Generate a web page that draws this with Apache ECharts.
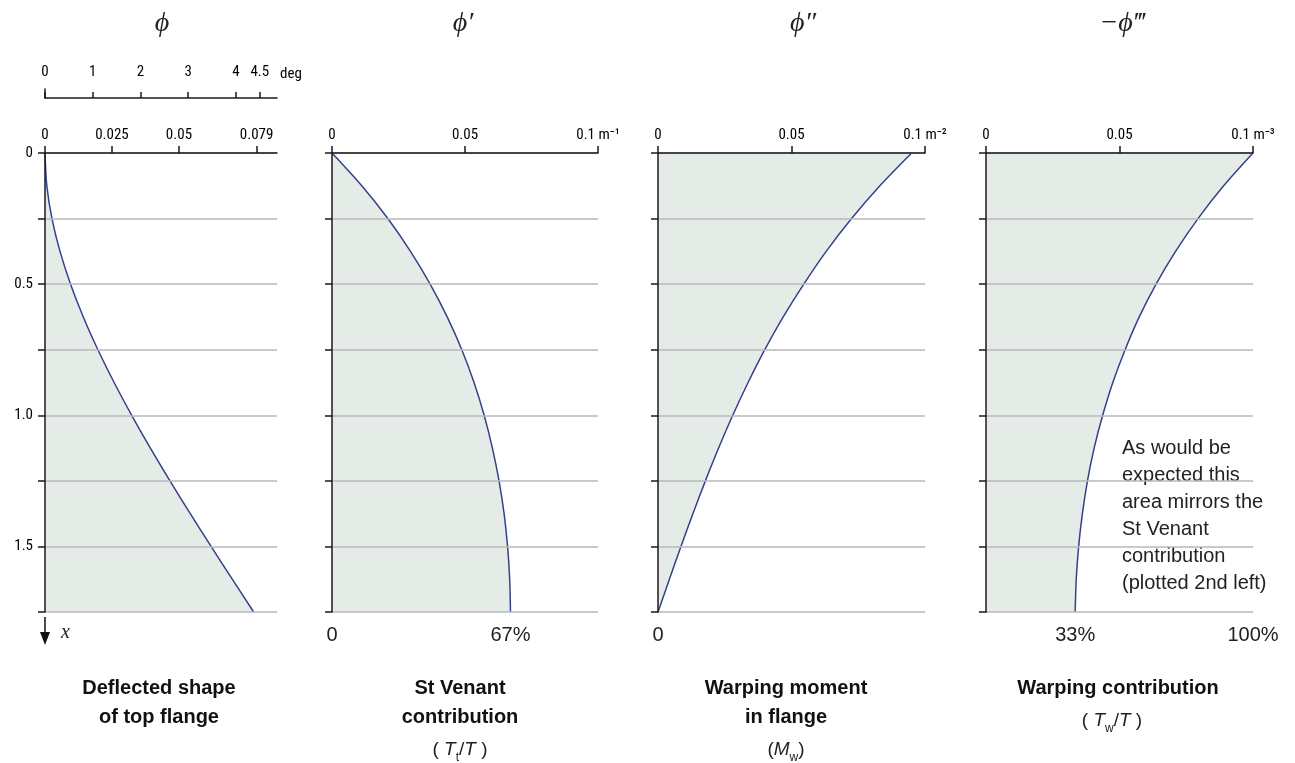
<!DOCTYPE html>
<html>
<head>
<meta charset="utf-8">
<script src="https://cdn.jsdelivr.net/npm/echarts@6/dist/echarts.min.js"></script>
<style>
html,body{margin:0;padding:0;background:#fff;}
#chart{width:1295px;height:763px;}
</style>
</head>
<body>
<div id="chart"></div>
<script>
// Depth along the member (m), top = fixed end
const depth = ['0','0.125','0.25','0.375','0.5','0.625','0.75','0.875','1.0','1.125','1.25','1.375','1.5','1.625','1.75'];
// phi (rad)
const phi = [0, 0.00068, 0.0026, 0.0056, 0.00954, 0.01429, 0.01975, 0.0258, 0.03236, 0.03934, 0.04665, 0.05423, 0.062, 0.0699, 0.0779];
// phi' (m^-1)
const phi1 = [0, 0.0112, 0.0210, 0.0295, 0.0369, 0.0433, 0.0488, 0.0534, 0.0572, 0.0603, 0.0628, 0.0647, 0.0660, 0.0668, 0.0671];
// phi'' (m^-2)
const phi2 = [0.095, 0.0831, 0.0725, 0.0630, 0.0546, 0.0469, 0.0400, 0.03375, 0.0280, 0.0227, 0.01775, 0.01307, 0.0086, 0.00427, 0];
// -phi''' (m^-3)
const phi3 = [0.1, 0.0890, 0.0794, 0.0710, 0.0637, 0.0574, 0.0521, 0.0475, 0.0437, 0.0405, 0.0380, 0.0361, 0.0347, 0.0338, 0.0334];

const degTicks = [0, 1, 2, 3, 4, 4.5];
const radTicks = [0, 0.025, 0.05, 0.079];
const derivTicks = [0, 0.05, 0.1];
const units = ['', 'm\u207B\u00B9', 'm\u207B\u00B2', 'm\u207B\u00B3'];
const bottomTicks2 = [0, 0.0671];
const bottomTicks3 = [0];
const bottomTicks4 = [0.0334, 0.1];

const titles = ['\u03D5', '\u03D5\u2032', '\u03D5\u2033', '\u2212\u03D5\u2034'];
const captions = [
  'Deflected shape\nof top flange',
  'St Venant\ncontribution',
  'Warping moment\nin flange',
  'Warping contribution'
];
const note = 'As would be\nexpected this\narea mirrors the\nSt Venant\ncontribution\n(plotted 2nd left)';

const COND = "'Roboto Condensed','DejaVu Sans Condensed',sans-serif";
const SANS = "'Liberation Sans',Arial,sans-serif";
const SERIF = "'Liberation Serif','DejaVu Serif',serif";
const LINE = '#35408c';
const FILL = '#e5ebe7';
const GRIDC = '#b8b8b8';
const AX = '#1a1a1a';

const panels = [
  {left: 45, width: 232, max: 0.0866, data: phi, ticks: radTicks},
  {left: 332, width: 266, max: 0.1, data: phi1, ticks: derivTicks},
  {left: 658, width: 267, max: 0.1, data: phi2, ticks: derivTicks},
  {left: 986, width: 267, max: 0.1, data: phi3, ticks: derivTicks}
];
const TOP = 153, H = 459;

const grid = panels.map(p => ({left: p.left, top: TOP, width: p.width, height: H}));
grid.push({left: 45, top: 89, width: 232, height: 9});

const xAxis = panels.map((p, i) => ({
  type: 'value', gridIndex: i, position: 'top', min: 0, max: p.max, z: 5,
  axisLine: {show: true, lineStyle: {color: AX, width: 1.5}},
  axisTick: {show: true, inside: false, length: 7, lineStyle: {color: AX, width: 1.5}, customValues: p.ticks},
  axisLabel: {show: true, margin: 10, color: '#000', fontFamily: COND, fontSize: 15,
    customValues: p.ticks,
    formatter: v => (i > 0 && v === 0.1) ? '0.1 ' + units[i] : String(v)},
  splitLine: {show: false}
}));
xAxis.push({
  type: 'value', gridIndex: 4, position: 'top', min: 0, max: 4.86,
  axisLine: {show: true, lineStyle: {color: AX, width: 1.5}},
  axisTick: {show: true, length: 6, lineStyle: {color: AX, width: 1.5}, customValues: degTicks},
  axisLabel: {margin: 9, color: '#000', fontFamily: COND, fontSize: 15, customValues: degTicks},
  splitLine: {show: false},
  name: 'deg', nameLocation: 'end', nameGap: 3,
  nameTextStyle: {color: '#000', fontFamily: COND, fontSize: 15, verticalAlign: 'bottom', padding: [0, 0, 16, 0]}
});
const bottomSets = [null, bottomTicks2, bottomTicks3, bottomTicks4];
[1, 2, 3].forEach(i => {
  xAxis.push({
    type: 'value', gridIndex: i, position: 'bottom', min: 0, max: panels[i].max,
    axisLine: {show: false}, axisTick: {show: false}, splitLine: {show: false},
    axisLabel: {show: true, margin: 13, color: '#222', fontFamily: SANS, fontSize: 20,
      customValues: bottomSets[i],
      formatter: v => v === 0 ? '0' : Math.round(v / 0.1 * 100) + '%'}
  });
});

const yAxis = panels.map((p, i) => ({
  type: 'category', gridIndex: i, data: depth, inverse: true, boundaryGap: false, z: 4,
  axisLine: {show: true, lineStyle: {color: AX, width: 1.5}},
  axisTick: {show: true, length: 7, interval: idx => idx % 2 === 0, lineStyle: {color: AX, width: 1.5}},
  axisLabel: {show: i === 0, margin: 12, color: '#000', fontFamily: COND, fontSize: 15,
    interval: idx => idx % 4 === 0,
    formatter: v => v === '0' ? '0' : Number(v).toFixed(1)},
  splitLine: {show: true, interval: idx => idx % 2 === 0, lineStyle: {color: GRIDC, width: 1.5}}
}));
yAxis.push({
  type: 'value', gridIndex: 4, min: 0, max: 1,
  axisLine: {show: true, onZero: false, lineStyle: {color: AX, width: 1.5}},
  axisTick: {show: false}, axisLabel: {show: false}, splitLine: {show: false}
});

const series = panels.map((p, i) => ({
  type: 'line', xAxisIndex: i, yAxisIndex: i, data: p.data,
  smooth: 0.3, symbol: 'none', z: 2,
  lineStyle: {color: LINE, width: 1.5},
  areaStyle: {color: FILL, opacity: 1},
  silent: true
}));

const graphic = [];
const titleX = [162, 463, 803, 1122];
titles.forEach((t, i) => graphic.push({
  type: 'text', x: titleX[i], y: 24,
  style: {text: t, fill: '#222', font: 'italic 28px ' + SERIF, align: 'center', verticalAlign: 'middle'}
}));
const capX = [159, 460, 786, 1118];
captions.forEach((c, i) => graphic.push({
  type: 'text', x: capX[i], y: 674,
  style: {text: c, fill: '#111', font: 'bold 20px ' + SANS, align: 'center', verticalAlign: 'top', lineHeight: 29}
}));
const subRich = {
  p: {fontFamily: SANS, fontSize: 19, lineHeight: 29, fill: '#222'},
  i: {fontFamily: SANS, fontSize: 19, fontStyle: 'italic', lineHeight: 29, fill: '#222'},
  s: {fontFamily: SANS, fontSize: 12, lineHeight: 19, verticalAlign: 'bottom', fill: '#222'}
};
graphic.push({type: 'text', x: 460, y: 735,
  style: {text: '{p|( }{i|T}{s|t}{p|/}{i|T}{p| )}', rich: subRich, align: 'center', verticalAlign: 'top'}});
graphic.push({type: 'text', x: 786, y: 735,
  style: {text: '{p|(}{i|M}{s|w}{p|)}', rich: subRich, align: 'center', verticalAlign: 'top'}});
graphic.push({type: 'text', x: 1112, y: 706,
  style: {text: '{p|( }{i|T}{s|w}{p|/}{i|T}{p| )}', rich: subRich, align: 'center', verticalAlign: 'top'}});
// annotation
graphic.push({type: 'text', x: 1122, y: 435,
  style: {text: note, fill: '#222', font: '20px ' + SANS, align: 'left', verticalAlign: 'top', lineHeight: 27}});
// depth arrow
graphic.push({type: 'line', shape: {x1: 45, y1: 617, x2: 45, y2: 633}, style: {stroke: '#111', lineWidth: 1.5}});
graphic.push({type: 'polygon', shape: {points: [[40, 632], [50, 632], [45, 645]]}, style: {fill: '#111'}});
graphic.push({type: 'text', x: 61, y: 633,
  style: {text: 'x', fill: '#222', font: 'italic 20px ' + SERIF, align: 'left', verticalAlign: 'middle'}});

const chart = echarts.init(document.getElementById('chart'), null, {renderer: 'canvas'});
chart.setOption({
  animation: false,
  backgroundColor: '#fff',
  grid, xAxis, yAxis, series, graphic
});
</script>
</body>
</html>
